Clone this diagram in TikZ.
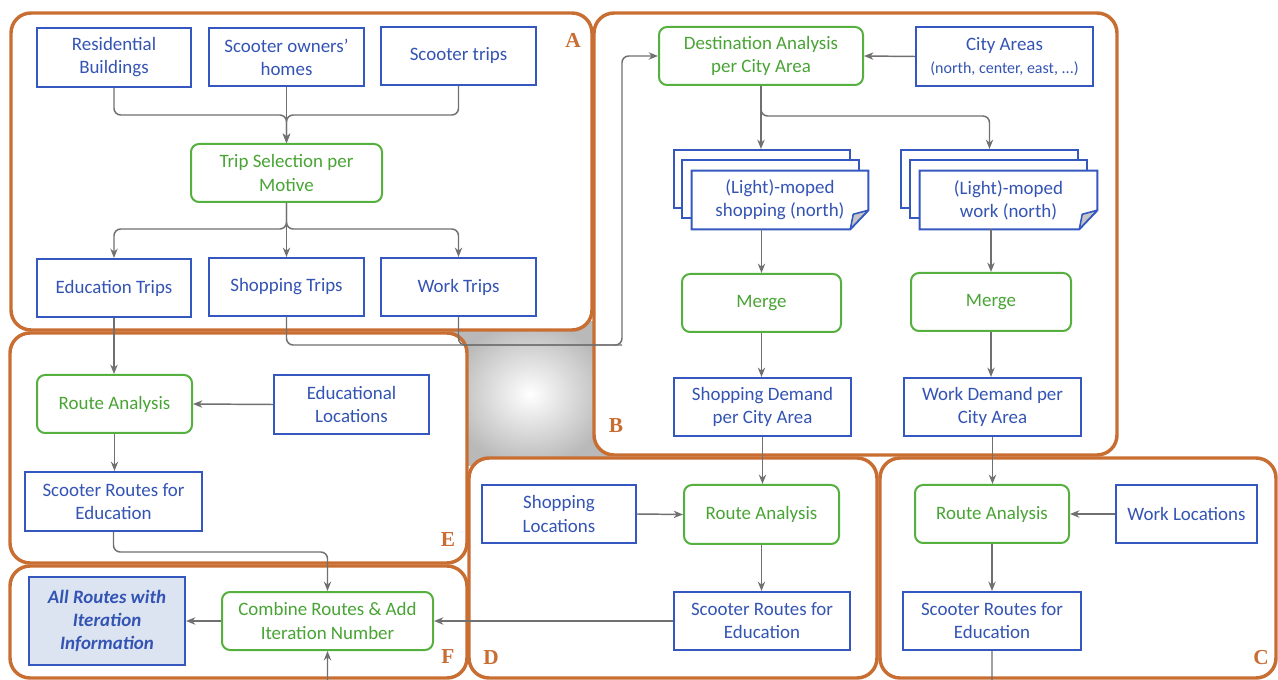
\documentclass[tikz,border=0pt]{standalone}
\usepackage{fontspec}
\setmainfont{Carlito}
\newfontfamily\lblfont{Liberation Serif}
\usetikzlibrary{arrows.meta,calc}
\definecolor{panelor}{RGB}{200,110,50}
\definecolor{bblue}{RGB}{52,88,192}
\definecolor{tblue}{RGB}{52,84,180}
\definecolor{ggreen}{RGB}{86,176,64}
\definecolor{tgreen}{RGB}{72,164,52}
\definecolor{conncol}{RGB}{112,112,112}
\definecolor{fillblue}{RGB}{220,228,242}
\begin{document}
\begin{tikzpicture}[x=0.75pt,y=-0.75pt,
  sz/.style 2 args={minimum width=#1*0.75pt, minimum height=#2*0.75pt},
  bbox/.style={draw=bblue, line width=1.5pt, fill=white, text=tblue, align=center, inner sep=0pt,
    font=\fontsize{14.2}{17.3}\selectfont},
  gbox/.style={bbox, draw=ggreen, text=tgreen, rounded corners=6pt},
  panel/.style={draw=panelor, line width=2.6pt, fill=white, rounded corners=15pt},
  lbl/.style={text=panelor, inner sep=0pt, font=\lblfont\bfseries\fontsize{16}{18}\selectfont},
  connL/.style={draw=conncol, line width=1.1pt, rounded corners=5pt},
  conn/.style={connL, -{Stealth[length=7pt,width=5.5pt,inset=2.2pt]}},
  docfront/.style={draw=none, fill=white, text=tblue, align=center, inner sep=0pt,
    font=\fontsize{14.2}{17.3}\selectfont}
]
\useasboundingbox (0,0) rectangle (1278,680);
% grey backdrop
\shade[inner color=white, outer color=gray!55] (450,322) rectangle (610,466);
% panels
\draw[panel] (11,13) rectangle (592,330);
\draw[panel] (594,13) rectangle (1117,455);
\draw[panel] (10,333) rectangle (467,563);
\draw[panel] (10,566) rectangle (467,678);
\draw[panel] (469,458) rectangle (877,678);
\draw[panel] (880,458) rectangle (1276,678);

% A
\node[bbox, sz={154}{59}] (res) at (114,57.5) {Residential\\Buildings};
\node[bbox, sz={155}{58}] (own) at (286.5,57) {Scooter owners’\\homes};
\node[bbox, sz={155}{58}] (strips) at (458.5,56) {Scooter trips};
\node[gbox, sz={191}{58}] (tsel) at (286.5,173) {Trip Selection per\\Motive};
\node[bbox, sz={154}{58}] (edu) at (114,288) {Education Trips};
\node[bbox, sz={155}{58}] (shop) at (286.5,287) {Shopping Trips};
\node[bbox, sz={155}{58}] (work) at (458.5,287) {Work Trips};

% B
\node[gbox, sz={204}{58}] (dest) at (761,56) {Destination Analysis\\per City Area};
\node[bbox, sz={177}{59}] (city) at (1004.5,56.5) {City Areas\\{\fontsize{12}{15}\selectfont (north, center, east, ...)}};
\node[bbox, sz={176}{58}] (docS3) at (762,179) {};
\node[bbox, sz={177}{58}] (docS2) at (770.5,189) {};
\node[docfront, sz={176}{58}] (docS1) at (780,200) {(Light)-moped\\shopping (north)};
\draw[draw=bblue, line width=1.5pt] (docS1.north west) -- (docS1.north east) -- ($(docS1.south east)+(0,-19)$)
  -- ($(docS1.south east)+(-18,0)$) -- (docS1.south west) -- cycle;
\filldraw[draw=bblue, fill=gray!45, line width=1.2pt, line join=round] ($(docS1.south east)+(0,-19)$)
  -- ($(docS1.south east)+(-18,0)$) -- ($(docS1.south east)+(-15,-15)$) -- cycle;
\node[bbox, sz={177}{58}] (docW3) at (989.5,179) {};
\node[bbox, sz={177}{58}] (docW2) at (998.5,189) {};
\node[docfront, sz={177}{58}] (docW1) at (1008.5,200) {(Light)-moped\\work (north)};
\draw[draw=bblue, line width=1.5pt] (docW1.north west) -- (docW1.north east) -- ($(docW1.south east)+(0,-19)$)
  -- ($(docW1.south east)+(-18,0)$) -- (docW1.south west) -- cycle;
\filldraw[draw=bblue, fill=gray!45, line width=1.2pt, line join=round] ($(docW1.south east)+(0,-19)$)
  -- ($(docW1.south east)+(-18,0)$) -- ($(docW1.south east)+(-15,-15)$) -- cycle;
\node[gbox, sz={159}{58}] (mergeS) at (761.5,303) {Merge};
\node[gbox, sz={160}{58}] (mergeW) at (991,302) {Merge};
\node[bbox, sz={177}{58}] (demS) at (762.5,407) {Shopping Demand\\per City Area};
\node[bbox, sz={177}{58}] (demW) at (992.5,407) {Work Demand per\\City Area};

% E
\node[gbox, sz={155}{58}] (raE) at (114.5,404) {Route Analysis};
\node[bbox, sz={155}{59}] (eduloc) at (351.5,404.5) {Educational\\Locations};
\node[bbox, sz={177}{59}] (srE) at (113.5,501.5) {Scooter Routes for\\Education};

% F
\node[bbox, fill=fillblue, font=\fontsize{14.2}{17.3}\selectfont\bfseries\itshape, sz={156}{88}] (allr) at (107,621) {All Routes with\\Iteration\\Information};
\node[gbox, sz={211}{58}] (comb) at (327.5,621) {Combine Routes \& Add\\Iteration Number};

% D
\node[bbox, sz={154}{58}] (shoploc) at (559,514) {Shopping\\Locations};
\node[gbox, sz={155}{59}] (raD) at (761.5,514.5) {Route Analysis};
\node[bbox, sz={176}{58}] (srD) at (762,621) {Scooter Routes for\\Education};

% C
\node[gbox, sz={154}{58}] (raC) at (992,514) {Route Analysis};
\node[bbox, sz={141}{58}] (workloc) at (1186.5,514) {Work Locations};
\node[bbox, sz={178}{58}] (srC) at (992,621) {Scooter Routes for\\Education};

% connectors A
\coordinate (j1) at (286.5,115);
\draw[conn] (res.south) |- (j1) -- (tsel.north);
\draw[conn] (own.south) -- (tsel.north);
\draw[conn] (strips.south) |- (j1) -- (tsel.north);
\coordinate (j2) at (286.5,229);
\draw[conn] (tsel.south) -- (j2) -| (edu.north);
\draw[conn] (tsel.south) -- (shop.north);
\draw[conn] (tsel.south) -- (j2) -| (work.north);
% bus to destination analysis
\coordinate (bus) at (622,345);
\draw[conn] (shop.south) |- (bus) |- (dest.west);
\draw[connL] (work.south) |- (bus);
% B
\draw[conn] (city.west) -- (dest.east);
\draw[conn] (dest.south) -- (dest.south |- docS3.north);
\draw[conn] (dest.south) |- ($(docW3.north)+(0,-33)$) -- (docW3.north);
\draw[conn] (mergeS.north |- docS1.south) -- (mergeS.north);
\draw[conn] (mergeW.north |- docW1.south) -- (mergeW.north);
\draw[conn] (mergeS.south) -- (mergeS.south |- demS.north);
\draw[conn] (mergeW.south) -- (mergeW.south |- demW.north);
\draw[conn] (demS.south) -- (demS.south |- raD.north);
\draw[conn] (demW.south) -- (demW.south |- raC.north);
% D, C
\draw[conn] (shoploc.east) -- (raD.west);
\draw[conn] (workloc.west) -- (raC.east);
\draw[conn] (raD.south) -- (raD.south |- srD.north);
\draw[conn] (raC.south) -- (srC.north);
\draw[conn] (srD.west) -- (comb.east);
% E, F
\draw[conn] (edu.south) -- (edu.south |- raE.north);
\draw[conn] (eduloc.west) -- (raE.east);
\draw[conn] (raE.south) -- (raE.south |- srE.north);
\draw[conn] (srE.south) |- ($(comb.north)+(0,-39)$) -- (comb.north);
\draw[conn] (comb.west) -- (allr.east);
\draw[conn] (srC.south) |- ($(comb.south)+(0,60)$) -- (comb.south);

% panel letters
\node[lbl] (la) at (573,40) {A};
\node[lbl] (lb) at (616,426) {B};
\node[lbl] (le) at (448,540) {E};
\node[lbl] (lf) at (448,657) {F};
\node[lbl] (ld) at (491,658) {D};
\node[lbl] (lc) at (1261,658) {C};
\end{tikzpicture}
\end{document}
